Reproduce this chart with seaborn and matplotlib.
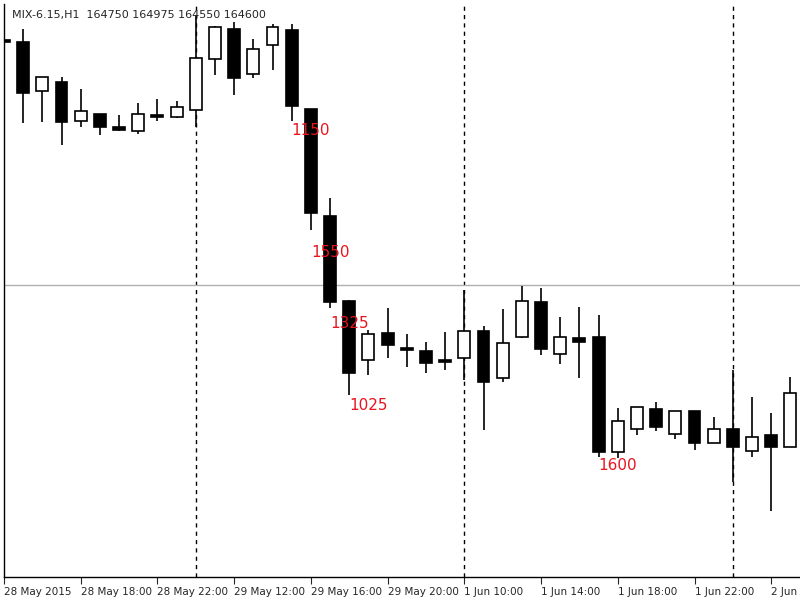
import matplotlib
matplotlib.use("Agg")
import matplotlib.pyplot as plt
import seaborn as sns
import numpy as np

sns.set_style("white")
plt.rcParams['font.family'] = ['DejaVu Sans']

# candle values (arbitrary price units), index -1..40
opens  = [558, 558, 509, 518, 479, 486, 473, 469, 485, 483, 490, 541, 571, 526, 555, 570, 491, 384, 299, 240, 267, 251, 249, 240, 242, 269, 222, 263, 298, 246, 262, 263, 148, 171, 191, 166, 189, 157, 171, 149, 165, 153]
closes = [558, 507, 523, 478, 489, 473, 470, 486, 483, 493, 542, 573, 522, 551, 573, 494, 387, 298, 227, 266, 255, 250, 237, 238, 269, 218, 257, 299, 251, 263, 258, 148, 179, 193, 173, 189, 157, 171, 153, 163, 153, 207]
highs  = [558, 571, 523, 523, 511, 486, 485, 497, 501, 499, 585, 574, 578, 561, 576, 576, 491, 402, 300, 270, 292, 266, 258, 268, 310, 274, 291, 314, 312, 283, 293, 285, 192, 193, 198, 189, 189, 183, 230, 203, 187, 223]
lows   = [558, 477, 478, 455, 473, 465, 469, 466, 479, 482, 473, 525, 505, 522, 530, 479, 370, 292, 205, 225, 242, 233, 227, 230, 220, 170, 218, 262, 245, 236, 222, 143, 142, 165, 169, 161, 150, 157, 118, 143, 89, 153]
ann_idx = [15, 16, 17, 18, 31]
ann_y = [470, 348, 277, 195, 135]
ann_txt = ["1150", "1550", "1325", "1025", "1600"]
tick_idx = [-1, 3, 7, 11, 15, 19, 23, 27, 31, 35, 39]
tick_lbl = ["28 May 2015", "28 May 18:00", "28 May 22:00", "29 May 12:00", "29 May 16:00",
            "29 May 20:00", "1 Jun 10:00", "1 Jun 14:00", "1 Jun 18:00", "1 Jun 22:00", "2 Jun"]
vline_idx = [9, 23, 37]
hline_val = 315

fig = plt.figure(figsize=(8, 6), dpi=100)
ax = fig.add_axes([0.005, 0.038, 0.995, 0.955])
x = np.arange(-1, len(opens) - 1)
o = np.array(opens); c = np.array(closes); h = np.array(highs); l = np.array(lows)
ax.vlines(x, l, h, color="black", lw=1.2, zorder=2)
w = 0.62
for xi, oi, ci in zip(x, o, c):
    bottom = min(oi, ci); height = max(abs(ci - oi), 2)
    fc = "white" if ci > oi else "black"
    ax.add_patch(plt.Rectangle((xi - w / 2, bottom), w, height, facecolor=fc,
                               edgecolor="black", lw=1.2, zorder=3))
for i, yv, t in zip(ann_idx, ann_y, ann_txt):
    ax.text(i, yv, t, color="#e8141e", fontsize=11, ha="center", va="center", zorder=5)
for v in vline_idx:
    ax.axvline(v, color="black", ls=(0, (3, 3)), lw=1, zorder=1)
ax.axhline(hline_val, color="#b0b0b0", lw=1, zorder=1)
ax.set_xlim(-0.94, 40.5)
ax.set_ylim(23, 596)
ax.set_yticks([])
ax.set_xticks(tick_idx)
ax.set_xticklabels(tick_lbl, fontsize=7.5, ha="left")
ax.tick_params(axis="x", direction="out", length=5, pad=2, bottom=True)
for s in ["top", "right"]:
    ax.spines[s].set_visible(False)
for s in ["left", "bottom"]:
    ax.spines[s].set_color("black"); ax.spines[s].set_linewidth(1)
ax.text(0.01, 0.99, "MIX-6.15,H1  164750 164975 164550 164600", transform=ax.transAxes,
        fontsize=8, va="top", ha="left")
fig.savefig("out.png", dpi=100)
